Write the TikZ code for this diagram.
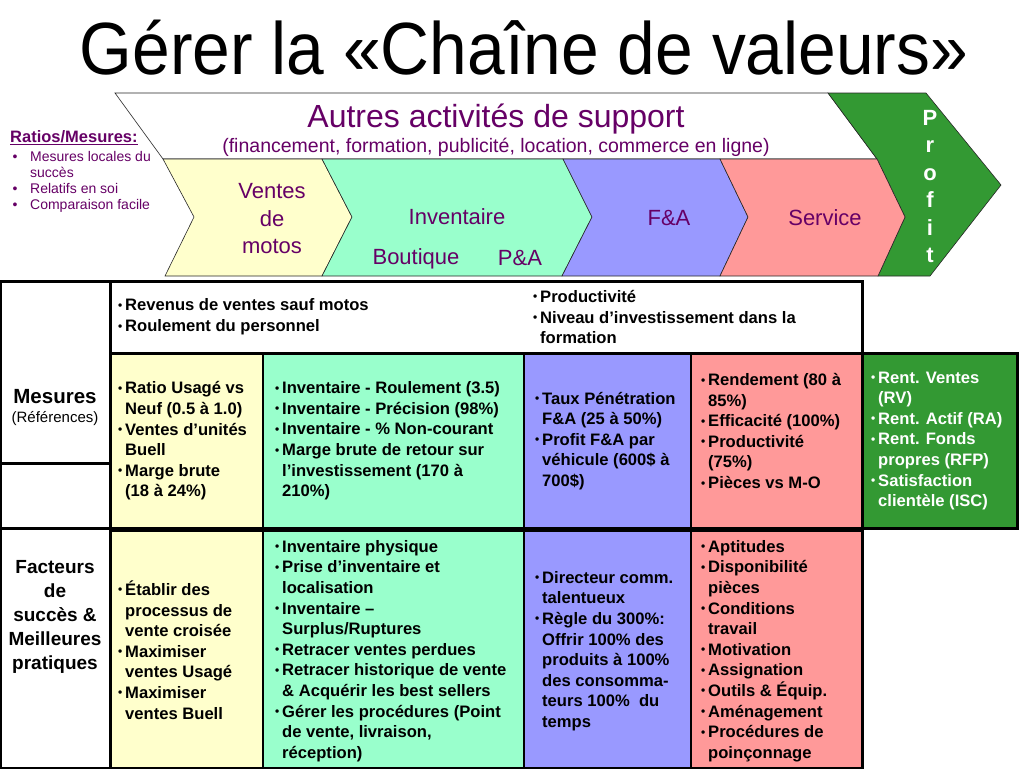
\documentclass[tikz,border=0pt]{standalone}
\usepackage{fontspec}
\setmainfont{Liberation Sans}

\definecolor{violet}{HTML}{660066}
\definecolor{jaune}{HTML}{FFFFCC}
\definecolor{turquoise}{HTML}{99FFCC}
\definecolor{bleu}{HTML}{9999FF}
\definecolor{rose}{HTML}{FF9999}
\definecolor{vert}{HTML}{339933}

\newcommand{\puce}{\makebox[7pt][l]{\raisebox{0.09em}{\scalebox{0.72}{\textbullet}}}}
\newcommand{\retrait}{\hspace*{7pt}}

\tikzset{
	chevron/.style={draw=black!85, line width=0.6pt},
	chevtxt/.style={text=violet, align=center, font=\fontsize{22}{27.5}\selectfont},
	celltxt/.style={anchor=west, inner sep=0pt, align=left, font=\bfseries\fontsize{16.6}{20.6}\selectfont},
	cellule/.style={draw, line width=1.2pt},
	cadre/.style={draw, line width=3pt}
}

\begin{document}
\begin{tikzpicture}[x=1pt,y=-1pt]
		\def\yh{353}  % bas de la ligne du haut
		\def\ym{528}  % bas des mesures
		\def\yf{530}  % haut des facteurs
		
		\useasboundingbox (0,0) rectangle (1024,768);
		\fill[white] (0,0) rectangle (1024,768);
		
		\node (titre) at (524,48) {\fontsize{74}{74}\selectfont\scalebox{0.915}[1]{Gérer la «Chaîne de valeurs»}};
		
		% chaine de valeurs
		\filldraw[fill=white, chevron] (115,93) -- (828,93) -- (877,159) -- (163,159) -- cycle;
		\filldraw[fill=vert, chevron] (828,93) -- (926,93) -- (1001,185) -- (930,276) -- (878,276) -- (905,217) -- (877,159) -- cycle;
		\filldraw[fill=jaune, chevron] (163,159) -- (322,159) -- (352,217) -- (322,276) -- (165,276) -- (194,217) -- cycle;
		\filldraw[fill=turquoise, chevron] (322,159) -- (563,159) -- (592,217) -- (562,276) -- (322,276) -- (352,217) -- cycle;
		\filldraw[fill=bleu, chevron] (563,159) -- (720,159) -- (748,217) -- (720,276) -- (562,276) -- (592,217) -- cycle;
		\filldraw[fill=rose, chevron] (720,159) -- (877,159) -- (905,217) -- (878,276) -- (720,276) -- (748,217) -- cycle;
		
		\node[text=violet, font=\fontsize{32}{32}\selectfont] (support) at (496,119) {Autres activités de support};
		\node[text=violet, font=\fontsize{19.5}{20}\selectfont] (details) at (496,147) {(financement, formation, publicité, location, commerce en ligne)};
		\node[chevtxt] (motos) at (272,219) {Ventes\\de\\motos};
		\node[chevtxt] (inventaire) at (457,217) {Inventaire};
		\node[chevtxt] (boutique) at (416,259) {Boutique};
		\node[chevtxt] (pa) at (520,258) {P\&A};
		\node[chevtxt] (fa) at (669,218) {F\&A};
		\node[chevtxt] (service) at (825,218) {Service};
		\foreach \lettre [count=\i] in {P,r,o,f,i,t}
			\node[anchor=base, text=white, font=\bfseries\fontsize{22}{22}\selectfont] (profit\i) at (930,{125+27.5*(\i-1)}) {\lettre};
		
		\node[anchor=west, inner sep=0pt, text=violet, font=\bfseries\fontsize{16.5}{17}\selectfont] (ratios) at (10,138) {\underline{Ratios/Mesures:}};
		\node[anchor=west, inner sep=0pt, align=left, text=violet, font=\fontsize{14}{16}\selectfont] (locales) at (10,182) {\makebox[20pt][l]{\,•}Mesures locales du\\\hspace*{20pt}succès\\\makebox[20pt][l]{\,•}Relatifs en soi\\\makebox[20pt][l]{\,•}Comparaison facile};
		
		% tableau
		\draw[cadre] (110,281) rectangle (862,\yh);
		\foreach \xa/\xb/\coul in {110/263/jaune,263/524/turquoise,524/691/bleu,691/862/rose}{
			\filldraw[fill=\coul, cellule] (\xa,\yh) rectangle (\xb,\ym);
			\filldraw[fill=\coul, cellule] (\xa,\yf) rectangle (\xb,768);
		}
		\draw[cadre] (110,\yh) rectangle (862,\ym);
		\draw[cadre] (110,\yf) rectangle (862,768);
		\filldraw[fill=vert, cadre] (862,\yh) rectangle (1017,\ym);
		\draw[cadre] (0,281) rectangle (110,768);
		\draw[cadre] (0,463) -- (110,463);
		\draw[cadre] (0,\ym) -- (110,\ym);
		
		\node[font=\bfseries\fontsize{20.5}{24}\selectfont] (mesures) at (55,397) {Mesures};
		\node[font=\fontsize{15}{18}\selectfont] (references) at (55,419) {(Références)};
		\node[align=center, font=\bfseries\fontsize{19}{24}\selectfont] (facteurs) at (55,617) {Facteurs\\de\\succès \&\\Meilleures\\pratiques};
		
		\node[celltxt] (revenus) at (118,317) {\puce Revenus de ventes sauf motos\\\puce Roulement du personnel};
		\node[celltxt] (productivite) at (533,317) {\puce Productivité\\\puce Niveau d’investissement dans la\\\retrait formation};
		
		\node[celltxt] (ratio) at (118,441) {\puce Ratio Usagé vs\\\retrait Neuf (0.5 à 1.0)\\\puce Ventes d’unités\\\retrait Buell\\\puce Marge brute\\\retrait (18 à 24\%)};
		\node[celltxt] (roulement) at (275,441) {\puce Inventaire - Roulement (3.5)\\\puce Inventaire - Précision (98\%)\\\puce Inventaire - \% Non-courant\\\puce Marge brute de retour sur\\\retrait l’investissement (170 à\\\retrait 210\%)};
		\node[celltxt] (taux) at (535,441) {\puce Taux Pénétration\\\retrait F\&A (25 à 50\%)\\\puce Profit F\&A par\\\retrait véhicule (600\$ à\\\retrait 700\$)};
		\node[celltxt] (rendement) at (701,431) {\puce Rendement (80 à\\\retrait 85\%)\\\puce Efficacité (100\%)\\\puce Productivité\\\retrait (75\%)\\\puce Pièces vs M-O};
		\node[celltxt, text=white] (rent) at (871,441) {\puce Rent. Ventes\\\retrait (RV)\\\puce Rent. Actif (RA)\\\puce Rent. Fonds\\\retrait propres (RFP)\\\puce Satisfaction\\\retrait clientèle (ISC)};
		
		\node[celltxt] (etablir) at (118,650) {\puce Établir des\\\retrait processus de\\\retrait vente croisée\\\puce Maximiser\\\retrait ventes Usagé\\\puce Maximiser\\\retrait ventes Buell};
		\node[celltxt] (physique) at (275,651) {\puce Inventaire physique\\\puce Prise d’inventaire et\\\retrait localisation\\\puce Inventaire –\\\retrait Surplus/Ruptures\\\puce Retracer ventes perdues\\\puce Retracer historique de vente\\\retrait \& Acquérir les best sellers\\\puce Gérer les procédures (Point\\\retrait de vente, livraison,\\\retrait réception)};
		\node[celltxt] (directeur) at (535,651) {\puce Directeur comm.\\\retrait talentueux\\\puce Règle du 300\%:\\\retrait Offrir 100\% des\\\retrait produits à 100\%\\\retrait des consomma-\\\retrait teurs 100\%~ du\\\retrait temps};
		\node[celltxt] (aptitudes) at (701,651) {\puce Aptitudes\\\puce Disponibilité\\\retrait pièces\\\puce Conditions\\\retrait travail\\\puce Motivation\\\puce Assignation\\\puce Outils \& Équip.\\\puce Aménagement\\\puce Procédures de\\\retrait poinçonnage};
		
	\end{tikzpicture}
\end{document}
